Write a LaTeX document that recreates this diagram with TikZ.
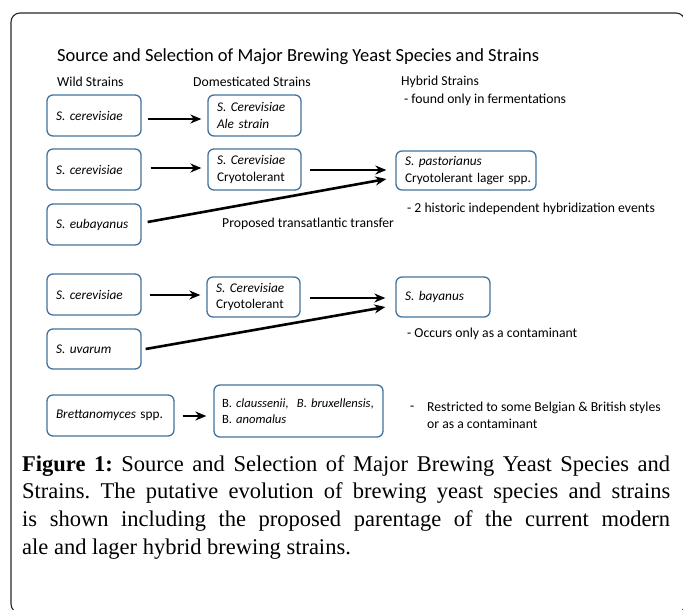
\documentclass[tikz,border=0pt]{standalone}
\usepackage{fontspec}
\setmainfont{Liberation Serif}
\newfontfamily\carl{Carlito}
\usetikzlibrary{arrows.meta}
\definecolor{boxblue}{RGB}{65,113,156}
\frenchspacing
\tikzset{
  bx/.style={draw=boxblue, line width=1.3pt, rounded corners=6pt, inner xsep=9pt, inner ysep=0pt,
    align=left, font=\carl\fontsize{13.3}{16.5}\selectfont},
  arr/.style={line width=2.6pt, -{Stealth[length=11pt,width=9pt,inset=3.5pt]}},
  lbl/.style={anchor=west, inner sep=0pt, font=\carl\fontsize{13.7}{17}\selectfont},
}
\begin{document}
\begin{tikzpicture}[x=1pt,y=-1pt]
\useasboundingbox (0,0) rectangle (683,610);
\begin{scope}
\clip (0,0) rectangle (683,610);
\draw[line width=1.1pt, rounded corners=9pt, draw=black!85] (11,13) rectangle (685,613);
\end{scope}
% title and headers
\node[lbl, font=\carl\fontsize{18.5}{22}\selectfont] (title) at (57,57) {Source and Selection of Major Brewing Yeast Species and Strains};
\node[lbl] (hw) at (57,82) {Wild Strains};
\node[lbl] (hd) at (193,82) {Domesticated Strains};
\node[lbl] (hh) at (401,82) {Hybrid Strains};
\node[lbl] (hf) at (404,100) {- found only in fermentations};
% boxes
\node[bx, text width=76pt, minimum height=41pt] (w1) at (94,115.5) {\textit{S. cerevisiae}};
\node[bx, text width=75pt, minimum height=41pt] (d1) at (254.5,115.5) {\textit{S. Cerevisiae}\\\textit{Ale strain}};
\node[bx, text width=76pt, minimum height=41pt] (w2) at (94,169.5) {\textit{S. cerevisiae}};
\node[bx, text width=75pt, minimum height=41pt] (d2) at (254.5,169.5) {\textit{S. Cerevisiae}\\Cryotolerant};
\node[bx, text width=76pt, minimum height=41pt] (eu) at (94,224.5) {\textit{S. eubayanus}};
\node[bx, text width=122pt, minimum height=39pt] (pa) at (466,170.5) {\mbox{\textit{S. pastorianus}}\\\mbox{Cryotolerant lager spp.}};
\node[bx, text width=76pt, minimum height=41pt] (w3) at (94,294.5) {\textit{S. cerevisiae}};
\node[bx, text width=75pt, minimum height=40pt] (d3) at (253.5,297) {\textit{S. Cerevisiae}\\Cryotolerant};
\node[bx, text width=76pt, minimum height=40pt] (uv) at (94,349) {\textit{S. uvarum}};
\node[bx, text width=76pt, minimum height=40pt] (ba) at (443,297) {\textit{S. bayanus}};
\node[bx, text width=109pt, minimum height=41pt, inner xsep=9pt] (br) at (110.5,415.5) {\mbox{\textit{Brettanomyces} spp.}};
\node[bx, text width=153pt, minimum height=52pt, inner xsep=8pt, font=\carl\fontsize{12.6}{16.5}\selectfont] (bb) at (298.5,411) {\mbox{B. \textit{claussenii}, \ \textit{B. bruxellensis},}\\\mbox{B. \textit{anomalus}}};
% arrows
\draw[arr] ([xshift=6pt,yshift=-3.5pt]w1.east) -- ([xshift=-6pt,yshift=-3.5pt]d1.west);
\draw[arr] ([xshift=9pt,yshift=1.5pt]w2.east) -- ([xshift=-6pt,yshift=1.5pt]d2.west);
\draw[arr] ([xshift=8pt,yshift=-0.5pt]d2.east) -- ([xshift=-9pt,yshift=0.5pt]pa.west);
\draw[arr] ([xshift=6pt,yshift=2.5pt]eu.east) -- ([xshift=-9pt,yshift=-8.5pt]pa.west);
\draw[arr] ([xshift=8pt,yshift=-0.5pt]w3.east) -- ([xshift=-6pt,yshift=2pt]d3.west);
\draw[arr] ([xshift=9pt,yshift=-1pt]d3.east) -- ([xshift=-10pt,yshift=-1pt]ba.west);
\draw[arr] ([xshift=4pt]uv.east) -- ([xshift=-10pt,yshift=-10pt]ba.west);
\draw[arr] ([xshift=8pt,yshift=-0.5pt]br.east) -- ([xshift=-7pt,yshift=-5pt]bb.west);
% side labels
\node[lbl] (tr) at (222,224) {Proposed transatlantic transfer};
\node[lbl] (ev) at (407,209) {- 2 historic independent hybridization events};
\node[lbl] (oc) at (407,334) {- Occurs only as a contaminant};
\node[lbl] (da) at (410,408) {-};
\node[lbl, align=left, font=\carl\fontsize{13.7}{17}\selectfont] (rs) at (427,415.5) {Restricted to some Belgian \& British styles\\or as a contaminant};
% caption
\node[anchor=north west, inner sep=0pt, text width=648pt, align=justify,
  font=\fontsize{22.5}{27.8}\selectfont] (cap) at (22,455)
  {\textbf{Figure 1:} Source and Selection of Major Brewing Yeast Species and\linebreak Strains. The putative evolution of brewing yeast species and strains\linebreak is shown including the proposed parentage of the current modern\linebreak ale and lager hybrid brewing strains.};
\end{tikzpicture}
\end{document}
